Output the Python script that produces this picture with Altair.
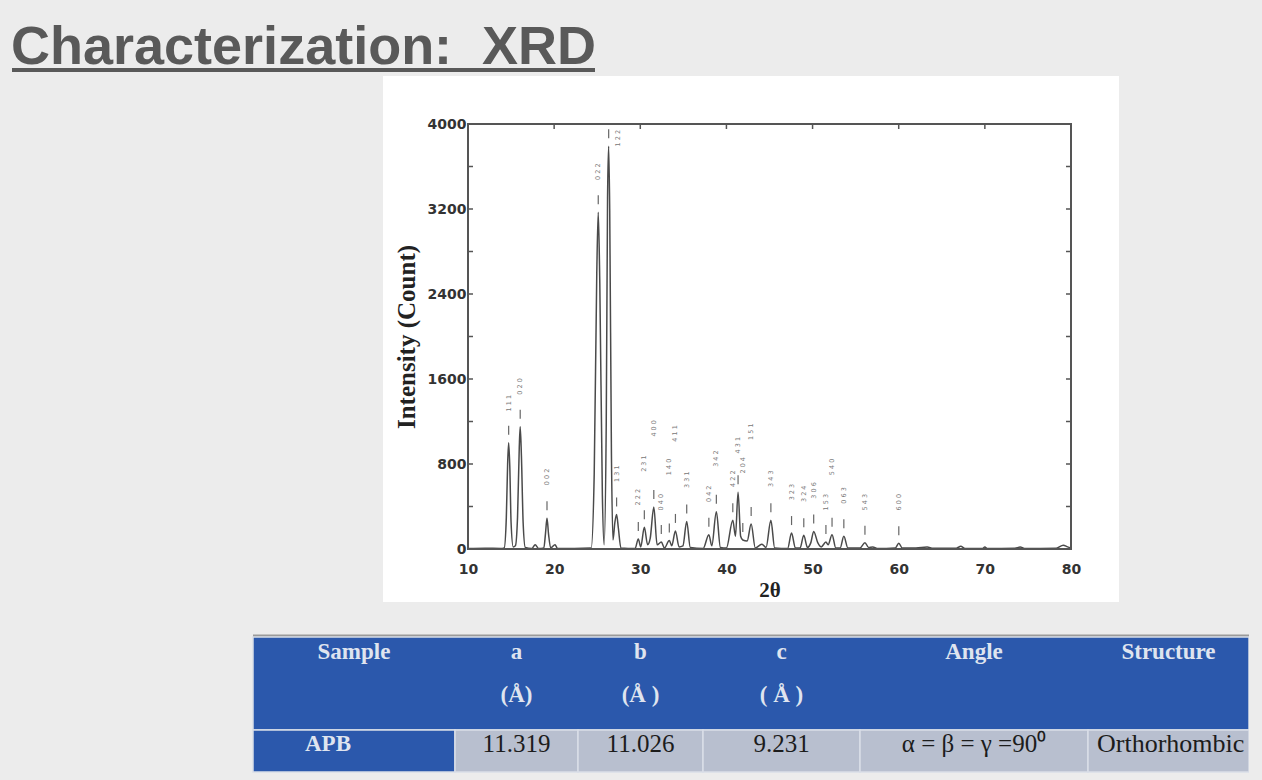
import altair as alt
import pandas as pd

# ---------------- data ----------------
xrd_pattern = [
    (10.0, 5), (12.0, 8), (13.8, 5), (14.2, 10), (14.45, 300), (14.6, 800), (14.72, 1000),
    (14.85, 780), (15.0, 250), (15.25, 20), (15.5, 30), (15.75, 300), (15.95, 950), (16.06, 1150),
    (16.2, 880), (16.4, 250), (16.65, 15), (17.4, 5), (17.8, 40), (18.2, 5), (18.8, 10), (19.0, 150),
    (19.17, 290), (19.35, 140), (19.6, 10), (20.1, 40), (20.4, 5), (24.3, 10), (24.65, 700),
    (24.95, 2600), (25.12, 3170), (25.3, 2500), (25.6, 500), (25.8, 40), (26.05, 1200), (26.2, 3300),
    (26.33, 3790), (26.45, 3200), (26.65, 900), (26.83, 85), (27.05, 250), (27.25, 325), (27.45, 200),
    (27.75, 10), (29.4, 5), (29.77, 95), (30.05, 20), (30.47, 205), (30.85, 40), (31.15, 100),
    (31.57, 395), (31.95, 40), (32.44, 65), (32.8, 10), (33.37, 80), (33.65, 30), (34.08, 170),
    (34.5, 20), (34.95, 30), (35.39, 260), (35.8, 15), (37.3, 5), (37.96, 135), (38.3, 30),
    (38.83, 350), (39.3, 15), (40.0, 10), (40.74, 270), (41.05, 120), (41.35, 535), (41.65, 120),
    (41.9, 85), (42.4, 75), (42.87, 235), (43.35, 10), (44.1, 45), (44.6, 15), (45.16, 270),
    (45.6, 10), (47.1, 5), (47.56, 150), (48.0, 10), (48.55, 10), (48.98, 130), (49.4, 15),
    (49.8, 60), (50.13, 165), (50.6, 60), (51.0, 20), (51.55, 65), (51.8, 40), (52.26, 135),
    (52.7, 10), (53.2, 10), (53.63, 120), (54.1, 10), (55.5, 10), (56.08, 60), (56.5, 15),
    (57.0, 20), (57.5, 5), (59.6, 10), (60.01, 55), (60.4, 10), (62.0, 10), (63.3, 18), (64.0, 8),
    (66.7, 8), (67.2, 25), (67.7, 5), (69.7, 5), (70.0, 18), (70.3, 5), (73.5, 8), (74.1, 18),
    (74.6, 5), (78.3, 8), (79.1, 35), (79.6, 20), (80.0, 10),
]

peak_pos = [14.72, 16.06, 19.17, 25.12, 26.33, 27.25, 29.77, 30.47, 31.57, 32.44, 33.37, 34.08,
            35.39, 37.96, 38.83, 40.74, 41.35, 41.9, 42.87, 45.16, 47.56, 48.98, 50.13, 51.55,
            52.26, 53.63, 56.08, 60.01]
peak_int = [1000, 1150, 290, 3170, 3790, 325, 95, 205, 395, 65, 80, 170, 260, 135, 350, 270,
            535, 85, 235, 270, 150, 130, 165, 65, 135, 120, 60, 55]
peak_hkl = ["1 1 1", "0 2 0", "0 0 2", "0 2 2", "1 2 2", "1 3 1", "2 2 2", "2 3 1", "4 0 0",
            "0 4 0", "1 4 0", "4 1 1", "3 3 1", "0 4 2", "3 4 2", "4 2 2", "4 3 1", "2 0 4",
            "1 5 1", "3 4 3", "3 2 3", "3 2 4", "3 0 6", "1 5 3", "5 4 0", "0 6 3", "5 4 3", "6 0 0"]
label_bottom = [1294, 1452, 600, 3473, 3788, 631, 410, 726, 1058, 363, 694, 1010, 575, 442, 773,
                584, 900, 710, 1026, 584, 458, 442, 473, 363, 694, 426, 363, 363]
label_shift = [0, 0, 0, 0, 1.05, 0, 0, 0, 0, 0, 0, 0, 0, 0, 0, 0, 0, 0, 0, 0, 0, 0, 0, 0, 0, 0, 0, 0]

x_tick_values = [10, 20, 30, 40, 50, 60, 70, 80]
y_tick_values = [0, 800, 1600, 2400, 3200, 4000]
inner_x_ticks = [20, 30, 40, 50, 60, 70]
inner_y_ticks = [400, 800, 1200, 1600, 2000, 2400, 2800, 3200, 3600]

slide_title = "Characterization:\u00a0\u00a0XRD"
table_header = ["Sample", "a", "b", "c", "Angle", "Structure"]
table_units = ["", "(Å)", "(Å )", "( Å )", "", ""]
table_row = ["APB", "11.319", "11.026", "9.231", "α = β = γ =90⁰", "Orthorhombic"]

# ---------------- layout (pixels on the 1262x780 page) ----------------
OX, OY = 468, 124          # plot origin
W, H = 603, 425            # plot size
col_edges = [253, 455, 578, 703, 860, 1088, 1249]
head_top, head_bot, row_bot = 637, 730, 772
BG = "#ececec"
BLUE = "#2b58ac"
CELL = "#b8bfcf"

xs = alt.Scale(domain=[10, 80], nice=False, zero=False)
ys = alt.Scale(domain=[0, 4000], nice=False, zero=False)
px_per_count = H / 4000.0

X_AX = alt.Axis(
    values=x_tick_values, format="d", ticks=False, domain=False, grid=False, labelFlush=False,
    labelFont="DejaVu Sans", labelFontWeight="bold", labelFontSize=14, labelColor="#333333",
    labelPadding=13, labelOverlap=False, title="2θ", titleFont="Liberation Serif",
    titleFontWeight="bold", titleFontSize=21, titleColor="#222222", titlePadding=3, zindex=1)
Y_AX = alt.Axis(
    values=y_tick_values, format="d", ticks=False, domain=False, grid=False, labelFlush=False,
    labelFont="DejaVu Sans", labelFontWeight="bold", labelFontSize=14, labelColor="#333333",
    labelPadding=2, labelOverlap=False, title="Intensity (Count)", titleFont="Liberation Serif",
    titleFontWeight="bold", titleFontSize=25, titleColor="#222222", titlePadding=8, zindex=1)


def X(field):
    return alt.X(field, scale=xs, axis=X_AX)


def Y(field):
    return alt.Y(field, scale=ys, axis=Y_AX)


one = pd.DataFrame({"d": [0]})


def px(v):
    return alt.value(v)


# white panel behind chart
panel = alt.Chart(one).mark_rect(color="white").encode(
    x=px(383 - OX), x2=px(1119 - OX), y=px(76 - OY), y2=px(602 - OY))

# slide title + underline
title_txt = alt.Chart(one).mark_text(
    text=slide_title, align="left", baseline="alphabetic", font="Liberation Sans",
    fontWeight="bold", fontSize=54, color="#595959").encode(x=px(11 - OX), y=px(64 - OY))
underline = alt.Chart(one).mark_rule(color="#595959", strokeWidth=4).encode(
    x=px(12 - OX), x2=px(595 - OX), y=px(70 - OY))

# XRD curve
curve_df = pd.DataFrame(xrd_pattern, columns=["t", "i"])
curve = alt.Chart(curve_df).mark_line(
    color="#4a4a4a", strokeWidth=1.5, interpolate="monotone").encode(
    x=X("t:Q"), y=Y("i:Q"), order="t:Q")

# inner ticks
ydf = pd.DataFrame({"t": [10] * len(inner_y_ticks), "i": inner_y_ticks})
xdf = pd.DataFrame({"t": inner_x_ticks, "i": [4000] * len(inner_x_ticks)})
tick_style = dict(color="#555555", strokeWidth=1.5)
left_ticks = alt.Chart(ydf).mark_rule(**tick_style).encode(y=Y("i:Q"), x=px(0), x2=px(5))
right_ticks = alt.Chart(ydf).mark_rule(**tick_style).encode(y=Y("i:Q"), x=px(W - 5), x2=px(W))
top_ticks = alt.Chart(xdf).mark_rule(**tick_style).encode(x=X("t:Q"), y=px(0), y2=px(5))

# peak markers and hkl labels
pk = pd.DataFrame({"pos": peak_pos, "int": peak_int, "hkl": peak_hkl,
                   "lab": label_bottom, "shift": label_shift})
dashes = alt.Chart(pk).transform_calculate(
    lo=f"datum.int + 8 / {px_per_count}", hi=f"datum.int + 17 / {px_per_count}"
).mark_rule(color="#666666", strokeWidth=1.2).encode(
    x=X("pos:Q"), y=Y("lo:Q"), y2="hi:Q")
labels = alt.Chart(pk).transform_calculate(lx="datum.pos + datum.shift").mark_text(
    angle=270, align="left", baseline="middle", fontSize=6.5, font="DejaVu Sans",
    color="#777777").encode(x=X("lx:Q"), y=Y("lab:Q"), text="hkl:N")

# frame
frame = alt.Chart(one).mark_rect(fillOpacity=0, stroke="#555555", strokeWidth=2).encode(
    x=px(0), x2=px(W), y=px(0), y2=px(H))

# ---------------- table ----------------
cells = [dict(x1=col_edges[0], x2=col_edges[-1], y1=head_top, y2=head_bot, fill=BLUE)]
for k in range(len(table_header)):
    cells.append(dict(x1=col_edges[k], x2=col_edges[k + 1], y1=head_bot, y2=row_bot,
                      fill=BLUE if k == 0 else CELL))
cell_df = pd.DataFrame(cells)
for c in ["x1", "x2"]:
    cell_df[c] = cell_df[c] - OX
for c in ["y1", "y2"]:
    cell_df[c] = cell_df[c] - OY
table_rects = alt.Chart(cell_df).mark_rect(stroke="#d9dee8", strokeWidth=1.5).encode(
    x=alt.X("x1:Q", scale=None), x2="x2:Q",
    y=alt.Y("y1:Q", scale=None), y2="y2:Q",
    color=alt.Color("fill:N", scale=None, legend=None))
shadow = alt.Chart(one).mark_rule(color="#9a9a9a", strokeWidth=3).encode(
    x=px(col_edges[0] - OX), x2=px(col_edges[-1] - OX), y=px(head_top - 1 - OY))

centers = [(col_edges[k] + col_edges[k + 1]) / 2 - OX for k in range(len(table_header))]
hdr_df = pd.DataFrame({"x": centers, "y": [652 - OY] * 6, "t": table_header})
unit_df = pd.DataFrame({"x": centers, "y": [695 - OY] * 6, "t": table_units})
hdr_style = dict(font="Liberation Serif", fontWeight="bold", fontSize=23, color="#dfe4ef",
                 align="center", baseline="middle")
hdr_text = alt.Chart(hdr_df).mark_text(**hdr_style).encode(
    x=alt.X("x:Q", scale=None), y=alt.Y("y:Q", scale=None), text="t:N")
unit_text = alt.Chart(unit_df[unit_df.t != ""]).mark_text(**hdr_style).encode(
    x=alt.X("x:Q", scale=None), y=alt.Y("y:Q", scale=None), text="t:N")

row_df = pd.DataFrame({"x": centers[1:5], "y": [744 - OY] * 4, "t": table_row[1:5]})
row_text = alt.Chart(row_df).mark_text(
    font="Liberation Serif", fontSize=25, color="#1c1c1c", align="center", baseline="middle").encode(
    x=alt.X("x:Q", scale=None), y=alt.Y("y:Q", scale=None), text="t:N")
apb_text = alt.Chart(one).mark_text(
    text=table_row[0], font="Liberation Serif", fontWeight="bold", fontSize=23, color="#dfe4ef",
    align="left", baseline="middle").encode(x=px(305 - OX), y=px(744 - OY))
struct_text = alt.Chart(one).mark_text(
    text=table_row[5], font="Liberation Serif", fontSize=26, color="#1c1c1c",
    align="left", baseline="middle").encode(x=px(1097 - OX), y=px(744 - OY))
cover = alt.Chart(one).mark_rect(color=BG).encode(
    x=px(col_edges[-1] - OX), x2=px(1262 - OX), y=px(head_top - 4 - OY), y2=px(row_bot + 2 - OY))

chart = alt.layer(
    panel, shadow, table_rects, hdr_text, unit_text, row_text, apb_text, struct_text, cover,
    title_txt, underline, curve, left_ticks, right_ticks, top_ticks, dashes, labels, frame,
).properties(
    width=W, height=H,
    padding={"left": OX, "top": OY, "right": 1262 - OX - W, "bottom": 780 - OY - H},
    autosize=alt.AutoSizeParams(type="none"),
    background=BG,
).configure_view(stroke=None)

chart.save("out.html", embed_options={"renderer": "svg", "actions": False})
